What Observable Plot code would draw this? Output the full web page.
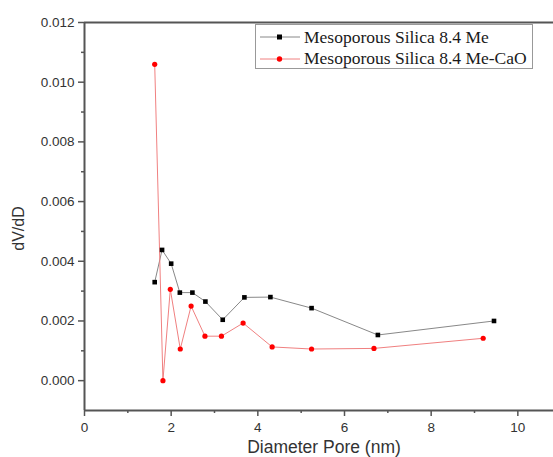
<!DOCTYPE html>
<html>
<head>
<meta charset="utf-8">
<script src="https://cdn.jsdelivr.net/npm/d3@7"></script>
<script src="https://cdn.jsdelivr.net/npm/@observablehq/plot@0.6"></script>
<style>
  html, body { margin: 0; padding: 0; background: #fff; }
  #wrap { position: relative; width: 553px; height: 457px; overflow: hidden; }
  #legend {
    position: absolute; left: 255px; top: 24px; width: 278px; height: 45px;
    border: 1px solid #999; background: #fff; box-sizing: border-box;
    font-family: "Liberation Serif", "Times New Roman", serif; font-size: 17.5px; color: #1a1a1a;
  }
  .row { position: absolute; left: 0; height: 20px; display: flex; align-items: center; }
  .row svg { display: block; flex: none; }
  .row span { margin-left: 4px; white-space: nowrap; }
</style>
</head>
<body>
<div id="wrap"></div>
<script>
const seriesNames = ["Mesoporous Silica 8.4 Me", "Mesoporous Silica 8.4 Me-CaO"];
const meX = [1.62, 1.79, 2.0, 2.2, 2.49, 2.79, 3.19, 3.69, 4.29, 5.24, 6.77, 9.45];
const meY = [0.0033, 0.00438, 0.00392, 0.00295, 0.00295, 0.00265, 0.00204, 0.00279, 0.0028, 0.00243, 0.00153, 0.0020];
const caoX = [1.62, 1.81, 1.98, 2.21, 2.46, 2.78, 3.16, 3.66, 4.33, 5.24, 6.68, 9.2];
const caoY = [0.0106, 0.0, 0.00306, 0.00106, 0.0025, 0.00149, 0.00149, 0.00193, 0.00113, 0.00106, 0.00108, 0.00142];
const xMajor = [0, 2, 4, 6, 8, 10];
const xMinor = [1, 3, 5, 7, 9];
const yMajor = [0, 0.002, 0.004, 0.006, 0.008, 0.010, 0.012];
const yMinor = [0.001, 0.003, 0.005, 0.007, 0.009, 0.011];

const me = meX.map((x, i) => ({x, y: meY[i]}));
const cao = caoX.map((x, i) => ({x, y: caoY[i]}));

const axisColor = "#555";
const chart = Plot.plot({
  width: 553, height: 457,
  marginLeft: 84, marginRight: 0, marginTop: 22, marginBottom: 47,
  style: {fontFamily: "Liberation Sans, Arial, sans-serif", fontSize: "13.5px", color: "#333", background: "#fff"},
  x: {domain: [0, 10.823]},
  y: {domain: [-0.001, 0.012]},
  marks: [
    Plot.axisX({ticks: xMajor, tickSize: 6, tickPadding: 6, stroke: axisColor, strokeWidth: 1.5, fill: "#333", fontSize: 13.5, label: null}),
    Plot.axisX({ticks: xMinor, tickSize: 3, stroke: axisColor, strokeWidth: 1.5, text: null, label: null}),
    Plot.axisY({ticks: yMajor, tickSize: 6, tickPadding: 4, tickFormat: d3.format(".3f"), stroke: axisColor, strokeWidth: 1.5, fill: "#333", fontSize: 13.5, label: null}),
    Plot.axisY({ticks: yMinor, tickSize: 3, stroke: axisColor, strokeWidth: 1.5, text: null, label: null}),
    Plot.ruleY([-0.001], {stroke: axisColor, strokeWidth: 2}),
    Plot.ruleY([0.012], {stroke: axisColor, strokeWidth: 2}),
    Plot.ruleX([0], {stroke: axisColor, strokeWidth: 2}),
    Plot.line(me, {x: "x", y: "y", stroke: "#888", strokeWidth: 1}),
    Plot.line(cao, {x: "x", y: "y", stroke: "#f08080", strokeWidth: 1}),
    Plot.dot(me, {x: "x", y: "y", symbol: "square", r: 2.6, fill: "#000", stroke: "none"}),
    Plot.dot(cao, {x: "x", y: "y", r: 2.6, fill: "#f00", stroke: "none"}),
    Plot.text(["Diameter Pore (nm)"], {frameAnchor: "bottom", dx: 5, dy: 42, fontSize: 17.5, fill: "#333", text: d => d}),
    Plot.text(["dV/dD"], {frameAnchor: "left", textAnchor: "middle", dx: -66, dy: 12, rotate: -90, fontSize: 16, fill: "#333", text: d => d})
  ]
});
const wrap = document.getElementById("wrap");
wrap.appendChild(chart);

const legend = document.createElement("div");
legend.id = "legend";
const colors = [["#888", "#000", "square"], ["#f08080", "#f00", "circle"]];
seriesNames.forEach((name, i) => {
  const row = document.createElement("div");
  row.className = "row";
  row.style.top = (2 + i * 21.5) + "px";
  const [lc, mc, shape] = colors[i];
  const marker = shape === "square"
    ? `<rect x="21" y="7.5" width="5" height="5" fill="${mc}"/>`
    : `<circle cx="23.5" cy="10" r="2.7" fill="${mc}"/>`;
  row.innerHTML = `<svg width="44" height="20"><line x1="4" x2="44" y1="10" y2="10" stroke="${lc}" stroke-width="1"/>${marker}</svg><span>${name}</span>`;
  legend.appendChild(row);
});
wrap.appendChild(legend);
</script>
</body>
</html>
